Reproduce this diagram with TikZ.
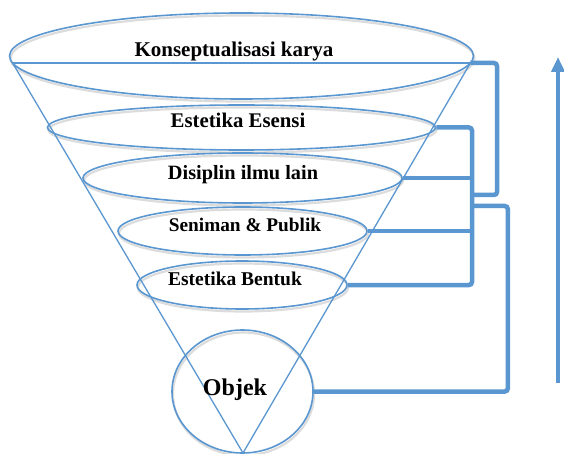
\documentclass[tikz,border=0pt]{standalone}
\usepackage{fontspec}
\setmainfont{Liberation Serif}
\usetikzlibrary{shapes.geometric,arrows.meta}
\definecolor{lb}{HTML}{5A96CF}
\begin{document}
\begin{tikzpicture}[x=1pt,y=-1pt,
  ell/.style={draw=lb,line width=1.6pt,ellipse,inner sep=0pt},
  shd/.style={draw=black!45,draw opacity=0.3,line width=2.2pt,ellipse,inner sep=0pt},
  lbl/.style={anchor=base,inner sep=0pt},
  conn/.style={draw=lb,line width=4.5pt,rounded corners=3pt},
  cone/.style={draw=lb,line width=1.3pt}]
\useasboundingbox (0,0) rectangle (564,454);
% shadows
\node[shd,minimum width=464pt,minimum height=86pt] at (242.5,58.5) {};
\node[shd,minimum width=388pt,minimum height=45pt] at (242.5,130) {};
\node[shd,minimum width=319pt,minimum height=50pt] at (243.5,180.5) {};
\node[shd,minimum width=249pt,minimum height=48pt] at (243.5,233.5) {};
\node[shd,minimum width=210pt,minimum height=48pt] at (243,287.5) {};
\node[shd,minimum width=141pt,minimum height=123pt] at (243.5,394) {};
% ellipses
\node[ell,minimum width=464pt,minimum height=86pt] (e1) at (241.5,56) {};
\node[ell,minimum width=388pt,minimum height=45pt] (e2) at (241.5,127.5) {};
\node[ell,minimum width=319pt,minimum height=50pt] (e3) at (242.5,178) {};
\node[ell,minimum width=249pt,minimum height=48pt] (e4) at (242.5,231) {};
\node[ell,minimum width=210pt,minimum height=48pt] (e5) at (242,285) {};
\node[ell,minimum width=141pt,minimum height=123pt] (ob) at (242.5,391.5) {};
% cone
\coordinate (cl) at (12.6,63);
\coordinate (cr) at (470.4,63);
\coordinate (ap) at (243,453);
\draw[cone] (cl) -- (cr);
\draw[cone] (cl) -- (ap) -- (cr);
% labels
\node[lbl,font=\bfseries\fontsize{21}{24}\selectfont] (t1) at (234,57) {Konseptualisasi karya};
\node[lbl,font=\bfseries\fontsize{20.8}{24}\selectfont] (t2) at (238,128) {Estetika Esensi};
\node[lbl,font=\bfseries\fontsize{20.3}{24}\selectfont] (t3) at (243,180) {Disiplin ilmu lain};
\node[lbl,font=\bfseries\fontsize{19.3}{23}\selectfont] (t4) at (245,232) {Seniman \& Publik};
\node[lbl,font=\bfseries\fontsize{19.5}{23}\selectfont] (t5) at (235,285) {Estetika Bentuk};
\node[lbl,font=\bfseries\fontsize{24}{28}\selectfont] (t6) at (235,395) {Objek};
% connectors
\coordinate (bx) at (472,0);
\coordinate (aend) at (473,195);
\coordinate (cend) at (473,206);
\draw[conn] (cr) -- ++(26.6,0) |- (aend);
\draw[conn] (e2.east) -| (bx |- e5.east) -- (e5.east);
\draw[conn] (e3.east) -- (e3.east -| bx);
\draw[conn] (e4.east) -- (e4.east -| bx);
\draw[conn] (ob.east) -- ++(194,0) |- (cend);
% arrow
\coordinate (ab) at (558,383);
\coordinate (at) at (558,57);
\draw[lb,line width=4pt,-{Triangle[length=15pt,width=13pt]}] (ab) -- (at);
\end{tikzpicture}
\end{document}
